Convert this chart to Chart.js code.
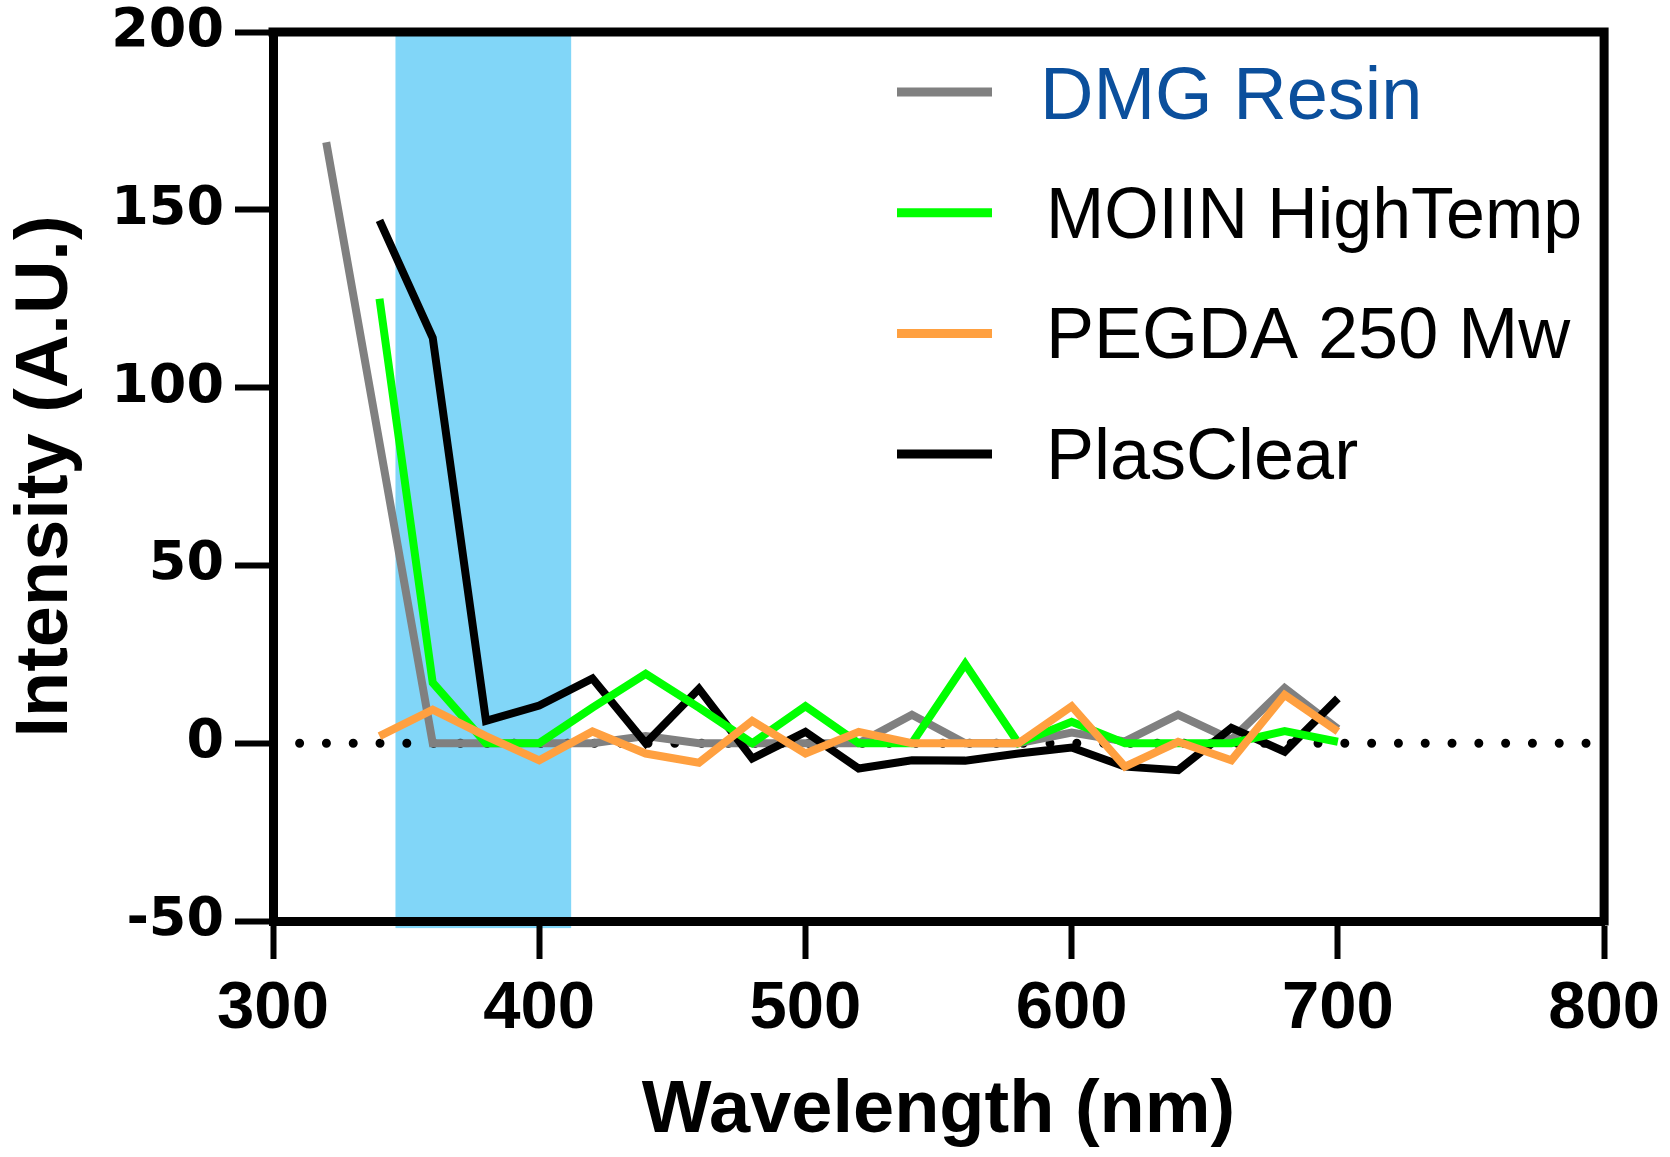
<!DOCTYPE html>
<html lang="en">
<head>
<meta charset="utf-8">
<title>Intensity vs Wavelength</title>
<script src="https://cdn.jsdelivr.net/npm/chart.js@4.4.0/dist/chart.umd.min.js"></script>
<style>
  html, body { margin: 0; padding: 0; background: #fff; }
  #wrap { width: 1670px; height: 1157px; }
</style>
</head>
<body>
<div id="wrap"><canvas id="chart" width="1670" height="1157"></canvas></div>
<script>
// wavelength (nm) where each resin was sampled
const wlDmg   = [320, 360, 380, 400, 420, 440, 460, 480, 500, 520, 540, 560, 580, 600, 620, 640, 660, 680, 700];
const wlOther = [340, 360, 380, 400, 420, 440, 460, 480, 500, 520, 540, 560, 580, 600, 620, 640, 660, 680, 700];

// intensity (A.U.)
const dmgResin      = [169, 0, 0, 0, 0, 2, 0, 0, 0, 0, 8, 0, 0, 3, 0.5, 8, 1, 15.5, 4];
const moiinHighTemp = [125, 17, 0, 0, 10, 19.5, 10, 0, 10.4, 0, 0, 22.3, 0, 6, 0, 0, 0, 3.4, 0.4];
const pegda250      = [2, 9.4, 2, -4.8, 3.3, -2.9, -5.5, 6.3, -2.9, 3.2, 0, 0, 0, 10.4, -6.6, 0.4, -4.8, 13.6, 3.3];
const plasClear     = [147, 114, 6.3, 10.6, 18.2, 0, 15.3, -4.3, 3.2, -7.1, -4.8, -4.9, -2.9, -1.2, -6.6, -7.6, 4.3, -2.4, 12.6];

// dotted reference line at zero, shaded excitation band
const zeroLineX = [310, 794];
const bandNm = [346, 412];
const bandIntensity = [-52, 200];

// axes
const xTicks = [300, 400, 500, 600, 700, 800];
const yTicks = [-50, 0, 50, 100, 150, 200];

function pts(xs, ys) {
  return xs.map((x, i) => ({ x: x, y: ys[i] }));
}

// light blue band behind everything (drawn before the axes)
const bandPlugin = {
  id: 'uvBand',
  beforeDraw(chart) {
    const { ctx, scales: { x, y } } = chart;
    const x0 = x.getPixelForValue(bandNm[0]);
    const x1 = x.getPixelForValue(bandNm[1]);
    const y0 = y.getPixelForValue(bandIntensity[1]);
    const y1 = y.getPixelForValue(bandIntensity[0]);
    ctx.save();
    ctx.fillStyle = '#81d6f8';
    ctx.fillRect(x0, y0, x1 - x0, y1 - y0);
    ctx.restore();
  }
};

// top + right frame lines
const framePlugin = {
  id: 'frame',
  beforeDatasetsDraw(chart) {
    const { ctx, chartArea: a } = chart;
    ctx.save();
    ctx.strokeStyle = '#000';
    ctx.lineWidth = 9;
    ctx.lineCap = 'square';
    ctx.beginPath();
    ctx.moveTo(a.left, a.top);
    ctx.lineTo(a.right, a.top);
    ctx.lineTo(a.right, a.bottom);
    ctx.stroke();
    ctx.restore();
  }
};

// legend drawn by hand so it sits like the original
const legendPlugin = {
  id: 'sideLegend',
  afterDraw(chart) {
    const ctx = chart.ctx;
    const items = chart.data.datasets.filter(d => d.label);
    ctx.save();
    ctx.textBaseline = 'alphabetic';
    ctx.textAlign = 'left';
    items.forEach((d, i) => {
      const ly = 92 + i * 120.7;
      ctx.strokeStyle = d.borderColor;
      ctx.lineWidth = 9;
      ctx.lineCap = 'butt';
      ctx.beginPath();
      ctx.moveTo(897, ly);
      ctx.lineTo(992, ly);
      ctx.stroke();
      // the first entry is a bit larger and blue in the original
      const big = i === 0;
      ctx.font = (big ? 74 : 72) + 'px "Liberation Sans", Arial, sans-serif';
      ctx.fillStyle = d.labelColor || '#000';
      ctx.fillText(d.label, big ? 1040 : 1046, ly + (big ? 27 : 25), 536);
    });
    ctx.restore();
  }
};

const ctx = document.getElementById('chart').getContext('2d');
const chart = new Chart(ctx, {
  type: 'line',
  data: {
    datasets: [
      { label: 'DMG Resin', labelColor: '#0b4f9c', data: pts(wlDmg, dmgResin), borderColor: '#808080', order: 4 },
      { label: 'MOIIN HighTemp', data: pts(wlOther, moiinHighTemp), borderColor: '#00ff00', order: 2 },
      { label: 'PEGDA 250 Mw', data: pts(wlOther, pegda250), borderColor: '#ffa040', order: 1 },
      { label: 'PlasClear', data: pts(wlOther, plasClear), borderColor: '#000000', order: 3 },
      {
        label: '', data: pts(zeroLineX, [0, 0]), borderColor: '#000',
        borderWidth: 9, borderDash: [0, 26.8], borderCapStyle: 'round', order: 5
      }
    ]
  },
  options: {
    responsive: false,
    devicePixelRatio: 1,
    animation: false,
    layout: { padding: { top: 32, right: 62, left: 0, bottom: 0 } },
    elements: {
      point: { radius: 0, hoverRadius: 0 },
      line: { borderWidth: 8, tension: 0, fill: false, borderJoinStyle: 'miter' }
    },
    plugins: { legend: { display: false }, tooltip: { enabled: false } },
    scales: {
      x: {
        type: 'linear',
        min: xTicks[0],
        max: xTicks[xTicks.length - 1],
        afterFit(s) { s.height = 236; },
        afterBuildTicks(s) { s.ticks = xTicks.map(v => ({ value: v })); },
        ticks: {
          autoSkip: false, maxRotation: 0, padding: 10, color: '#000',
          font: { family: '"Liberation Sans", Arial, sans-serif', weight: 'bold', size: 67 }
        },
        grid: { drawOnChartArea: false, tickLength: 38, tickWidth: 6, tickColor: '#000' },
        border: { display: true, width: 9, color: '#000' },
        title: {
          display: true, text: 'Wavelength (nm)', color: '#000',
          font: { family: '"Liberation Sans", Arial, sans-serif', weight: 'bold', size: 74, lineHeight: 1 },
          padding: { top: 0, bottom: 8 }
        }
      },
      y: {
        type: 'linear',
        min: yTicks[0],
        max: yTicks[yTicks.length - 1],
        afterFit(s) { s.width = 273; },
        afterBuildTicks(s) { s.ticks = yTicks.map(v => ({ value: v })); },
        ticks: {
          padding: 11, color: '#000',
          font: { family: '"DejaVu Sans", sans-serif', weight: 'bold', size: 54, lineHeight: 0.7 }
        },
        grid: { drawOnChartArea: false, tickLength: 38, tickWidth: 6, tickColor: '#000' },
        border: { display: true, width: 9, color: '#000' },
        title: {
          display: true, text: 'Intensity (A.U.)', color: '#000',
          font: { family: '"Liberation Sans", Arial, sans-serif', weight: 'bold', size: 74, lineHeight: 1 },
          padding: { top: 10, bottom: 0 }
        }
      }
    }
  },
  plugins: [bandPlugin, framePlugin, legendPlugin]
});
</script>
</body>
</html>
